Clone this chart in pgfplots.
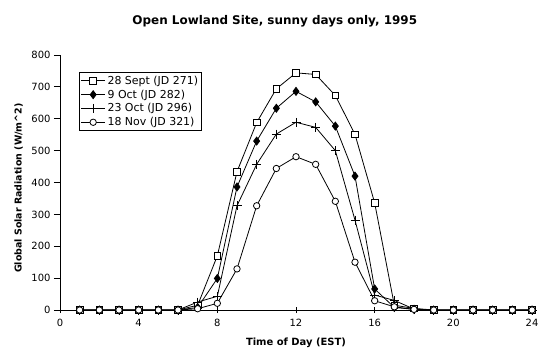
\documentclass[border=0pt]{standalone}
\usepackage{pgfplots}
\pgfplotsset{compat=1.18}
\usepackage{fontspec}
\setmainfont{DejaVu Sans}

\pgfplotstableread{
x s d p c
1 0 0 0 0
2 0 0 0 0
3 0 0 0 0
4 0 0 0 0
5 0 0 0 0
6 0 0 0 0
7 15 8 25 4
8 170 99 43 21
9 434 386 327 129
10 588 530 457 327
11 694 633 552 444
12 744 686 589 481
13 739 653 573 457
14 673 577 500 341
15 551 420 282 150
16 336 66 47 29
17 15 8 30 10
18 5 2 3 2
19 0 0 0 0
20 0 0 0 0
21 0 0 0 0
22 0 0 0 0
23 0 0 0 0
24 0 0 0 0
}\datatable

\begin{document}
\begin{tikzpicture}
\useasboundingbox (-60bp,-52bp) rectangle (492bp,310bp);
\begin{axis}[
  at={(0,0)}, anchor=south west,
  scale only axis, width=472bp, height=255bp,
  xmin=0, xmax=24, ymin=0, ymax=800,
  axis lines*=left,
  axis line style={line width=0.8pt, -},
  xtick={0,4,...,24}, ytick={0,100,...,800},
  tick align=outside,
  major tick length=6bp,
  tick style={line width=0.8pt, black},
  xtick style={yshift=3bp},
  /pgf/number format/assume math mode=true,
  tick label style={font=\fontsize{10}{12}\selectfont},
  xlabel={\bfseries Time of Day (EST)},
  ylabel={\bfseries Global Solar Radiation (W/m\textasciicircum 2)},
  xlabel style={font=\fontsize{10}{12}\selectfont, at={(axis description cs:0.5,-0.128)}, anchor=center},
  ylabel style={font=\fontsize{9.5}{12}\selectfont, at={(axis description cs:-0.0875,0.478)}, anchor=center},
  clip=false,
  legend style={at={(axis description cs:0.040,0.933)}, anchor=north west,
    draw=black, line width=0.8pt, font=\fontsize{11}{12.5}\selectfont,
    row sep=0bp, inner sep=1.5bp},
  legend cell align=left,
  legend image code/.code={\draw[mark repeat=2,mark phase=2] plot coordinates {(0bp,0bp)(12bp,0bp)(24bp,0bp)};},
  every axis plot/.append style={line width=0.8pt, black},
]
\addplot[mark=square*, mark size=3.3bp, mark options={fill=white, solid}] table[x=x,y=s]{\datatable};
\addlegendentry{28 Sept (JD 271)}
\addplot[mark=diamond*, mark size=4bp, mark options={fill=black, solid}] table[x=x,y=d]{\datatable};
\addlegendentry{9 Oct (JD 282)}
\addplot[mark=+, mark size=4.5bp] table[x=x,y=p]{\datatable};
\addlegendentry{23 Oct (JD 296)}
\addplot[mark=*, mark size=3.2bp, mark options={fill=white, solid}] table[x=x,y=c]{\datatable};
\addlegendentry{18 Nov (JD 321)}
\node[font=\bfseries\fontsize{12}{14}\selectfont, anchor=center] at (axis description cs:0.455,1.133) {Open Lowland Site, sunny days only, 1995};
\end{axis}
\end{tikzpicture}
\end{document}
